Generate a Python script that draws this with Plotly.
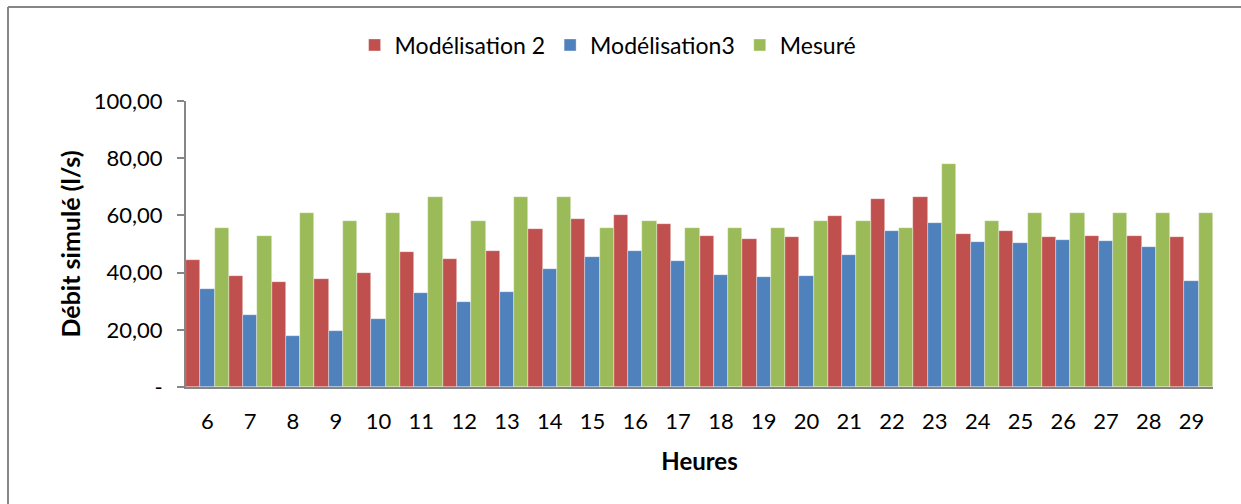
import plotly.graph_objects as go

heures = [str(h) for h in range(6, 30)]
modelisation2 = [44.3, 38.8, 36.8, 37.6, 40.0, 47.3, 44.9, 47.5, 55.1, 58.9, 60.0, 57.1,
                 52.7, 51.9, 52.3, 59.7, 65.6, 66.3, 53.5, 54.7, 52.4, 52.7, 52.7, 52.4]
modelisation3 = [34.1, 25.1, 18.0, 19.7, 23.8, 32.8, 29.8, 33.2, 41.2, 45.6, 47.7, 44.0,
                 39.3, 38.6, 38.8, 46.1, 54.5, 57.5, 50.8, 50.5, 51.3, 51.1, 49.1, 37.0]
mesure = [55.5, 52.7, 61.0, 58.2, 61.0, 66.6, 58.2, 66.6, 66.6, 55.5, 58.2, 55.5,
          55.5, 55.5, 58.2, 58.2, 55.5, 77.8, 58.2, 61.0, 61.0, 61.0, 61.0, 61.0]
y_ticks = [0, 20, 40, 60, 80, 100]
y_labels = ["-", "20,00", "40,00", "60,00", "80,00", "100,00"]

font = "Lato, Carlito, Calibri, sans-serif"

fig = go.Figure()
for name, vals, col in [("Modélisation 2", modelisation2, "#C0504D"),
                        ("Modélisation3", modelisation3, "#4F81BD"),
                        ("Mesuré", mesure, "#9BBB59")]:
    fig.add_trace(go.Bar(x=heures, y=vals, name=name, marker_color=col,
                         marker_line=dict(color="rgba(255,255,255,0.6)", width=0.6)))

# outer chart frame: only the left and top edges are inside the picture
frame = dict(color="#868686", width=2)
x_left = (8 - 186) / 1027
y_top = (387 - 7) / 286

fig.update_layout(
    width=1241, height=504,
    template=None,
    barmode="group", bargap=0.0, bargroupgap=0,
    paper_bgcolor="white", plot_bgcolor="white",
    font=dict(family=font, size=22, color="black"),
    margin=dict(l=186, r=28, t=101, b=117),
    legend=dict(orientation="h", x=0.49, xanchor="center", xref="container",
                y=1 - 45 / 504, yanchor="middle", yref="container",
                font=dict(size=23), itemwidth=30, traceorder="normal"),
    showlegend=True,
    xaxis=dict(type="category", showline=True, linecolor="#868686", linewidth=2, ticks="",
               ticklabelstandoff=14,
               title=dict(text="<b>Heures</b>", font=dict(size=24), standoff=20),
               tickfont=dict(size=22)),
    yaxis=dict(range=[0, 100], tickvals=y_ticks, ticktext=y_labels, showgrid=False,
               showline=True, linecolor="#868686", linewidth=2, ticks="outside",
               ticklen=7, tickcolor="#868686", tickwidth=2, zeroline=False,
               ticklabelstandoff=10,
               title=dict(text="<b>Débit simulé (l/s)</b>", font=dict(size=25), standoff=6),
               tickfont=dict(size=22)),
    shapes=[
        dict(type="line", xref="paper", yref="paper", x0=x_left, x1=x_left,
             y0=-0.6, y1=y_top, line=frame, layer="below"),
        dict(type="line", xref="paper", yref="paper", x0=x_left, x1=1.2,
             y0=y_top, y1=y_top, line=frame, layer="below"),
    ],
)

# drop the default 8px page margin so the figure fills the window exactly
fig.write_html("out.html", config={"displayModeBar": False},
               post_script="document.body.style.margin='0';")
